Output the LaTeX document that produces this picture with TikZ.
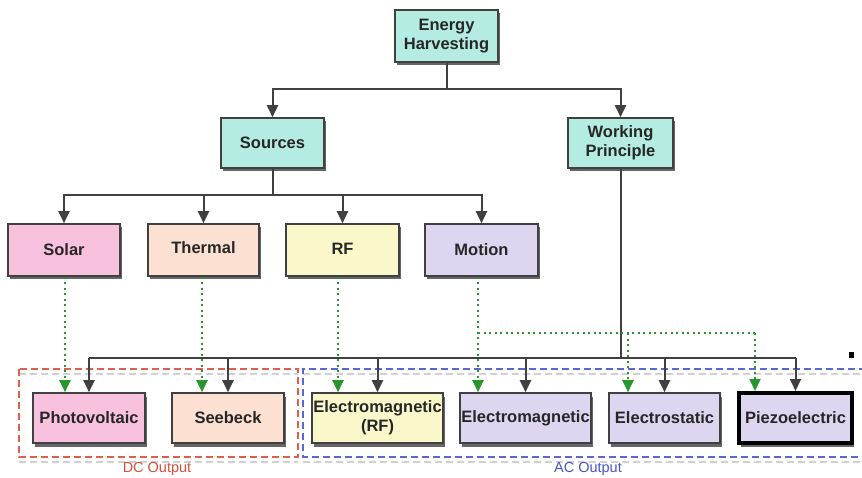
\documentclass[tikz,border=0pt]{standalone}
\usepackage{fontspec}
\setmainfont{Liberation Sans}
\usetikzlibrary{arrows.meta,shadows,calc}
\definecolor{tealc}{RGB}{180,236,226}
\definecolor{pinkc}{RGB}{248,194,222}
\definecolor{peachc}{RGB}{252,225,210}
\definecolor{yelc}{RGB}{250,248,202}
\definecolor{lavc}{RGB}{222,214,240}
\definecolor{greenc}{RGB}{40,150,45}
\definecolor{dcred}{RGB}{222,95,80}
\definecolor{acblue}{RGB}{90,105,210}
\definecolor{dctext}{RGB}{210,80,60}
\definecolor{actext}{RGB}{70,85,200}
\tikzset{
  box/.style={draw=black!75, line width=1.6pt, minimum height=50pt, inner sep=0pt,
    align=center, font=\bfseries\fontsize{16.5}{19}\selectfont, text=black!85,
    drop shadow={shadow xshift=1.5pt, shadow yshift=-3.5pt, fill=black, opacity=0.6}},
  conn/.style={draw=black!75, line width=2pt},
  arr/.style={conn, -{Triangle[width=11pt,length=12pt]}},
  garr/.style={draw=greenc, line width=2.2pt, dash pattern=on 2pt off 3.5pt,
    -{Triangle[width=11pt,length=12pt,fill=greenc]}},
  gline/.style={draw=greenc, line width=2.2pt, dash pattern=on 2pt off 3.5pt},
  grp/.style={line width=2pt, dash pattern=on 7pt off 4pt},
  grpshadow/.style={line width=2pt, dash pattern=on 7pt off 4pt, draw=black!18},
  grplabel/.style={font=\fontsize{14.5}{16}\selectfont}
}
\begin{document}
\begin{tikzpicture}[x=1pt,y=-1pt]
\useasboundingbox (0,0) rectangle (862,478);
% group boxes
\draw[grpshadow] (19,374) -- (298,374);
\draw[grpshadow] (19,462) -- (298,462);
\draw[grp, draw=dcred] (19,369) rectangle (298,457);
\draw[grpshadow] (303,374) -- (866,374);
\draw[grpshadow] (303,462) -- (866,462);
\draw[grp, draw=acblue] (866,369) -- (303,369) -- (303,457) -- (866,457);
\node[grplabel, text=dctext] (dcl) at (157,469) {DC Output};
\node[grplabel, text=actext] (acl) at (588,469) {AC Output};
% nodes
\node[box, fill=tealc, minimum width=103pt, minimum height=52pt] (EH) at (446.5,36) {Energy\\Harvesting};
\node[box, fill=tealc, minimum width=103pt] (Src) at (272.5,143) {Sources};
\node[box, fill=tealc, minimum width=105pt] (WP) at (620.5,143) {Working\\Principle};
\node[box, fill=pinkc, minimum width=112pt, minimum height=52pt] (Sol) at (64,250) {Solar};
\node[box, fill=peachc, minimum width=111pt, minimum height=52pt] (The) at (203.5,250) {\raisebox{4pt}{Thermal}};
\node[box, fill=yelc, minimum width=113pt, minimum height=52pt] (RF) at (342.5,250) {\raisebox{2pt}{RF}};
\node[box, fill=lavc, minimum width=113pt, minimum height=52pt] (Mot) at (481.5,250) {Motion};
\node[box, fill=pinkc, minimum width=112pt] (PV) at (89,418) {Photovoltaic};
\node[box, fill=peachc, minimum width=112pt] (SB) at (228,418) {Seebeck};
\node[box, fill=yelc, minimum width=131pt] (EMRF) at (377.5,418) {Electromagnetic\\(RF)};
\node[box, fill=lavc, minimum width=131pt] (EM) at (525.5,418) {Electromagnetic};
\node[box, fill=lavc, minimum width=111pt] (ES) at (664.5,418) {Electrostatic};
\node[box, fill=lavc, minimum width=113pt, draw=black, line width=4pt] (PZ) at (795.5,418) {Piezoelectric};
% top connectors
\coordinate (b1) at (447,89);
\draw[conn] (EH.south) -- (EH.south |- b1);
\draw[arr] (EH.south |- b1) -| (Src.north);
\draw[arr] (EH.south |- b1) -| (WP.north);
% sources connectors
\coordinate (b2) at (273,195);
\draw[conn] (Src.south) -- (Src.south |- b2);
\draw[arr] (Src.south |- b2) -| (Sol.north);
\draw[arr] (Src.south |- b2) -| (The.north);
\draw[arr] (Src.south |- b2) -| (RF.north);
\draw[arr] (Src.south |- b2) -| (Mot.north);
% working principle bus
\coordinate (b3) at (620,358);
\draw[conn] (WP.south) -- (WP.south |- b3);
\draw[conn] (PV.north |- b3) -- (PZ.north |- b3);
\draw[arr] (PV.north |- b3) -- (PV.north);
\draw[arr] (SB.north |- b3) -- (SB.north);
\draw[arr] (EMRF.north |- b3) -- (EMRF.north);
\draw[arr] (EM.north |- b3) -- (EM.north);
\draw[arr] (ES.north |- b3) -- (ES.north);
\draw[arr] (PZ.north |- b3) -- (PZ.north);
% green dotted connectors
\draw[garr] ([xshift=1pt]Sol.south) -- ([xshift=1pt]Sol.south |- PV.north);
\draw[garr] ([xshift=-1.5pt]The.south) -- ([xshift=-1.5pt]The.south |- SB.north);
\draw[garr] ([xshift=-4.5pt]RF.south) -- ([xshift=-4.5pt]RF.south |- EMRF.north);
\draw[garr] ([xshift=-3.5pt]Mot.south) -- ([xshift=-3.5pt]Mot.south |- EM.north);
\coordinate (g1) at (478,333);
\coordinate (gES) at (628,333);
\coordinate (gPZ) at (755,333);
\draw[gline] (g1) -- (gPZ);
\draw[garr] (gES) -- (gES |- ES.north);
\draw[garr] (gPZ) -- (gPZ |- PZ.north);
% small mark
\fill[black] (849,352) rectangle (854,358);
\end{tikzpicture}
\end{document}
